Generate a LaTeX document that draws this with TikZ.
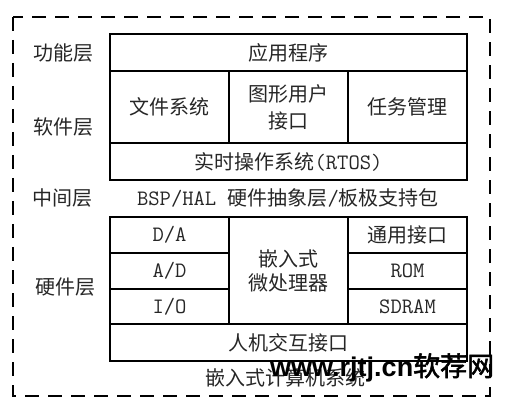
\documentclass[tikz,border=0pt]{standalone}
\usepackage{fontspec}
\setmainfont{Noto Sans CJK SC}
\newfontfamily\wmlat{Liberation Sans}
\newfontfamily\wmcjk{Noto Sans CJK SC}[FakeBold=2]
\newcommand\lt[1]{{\fontsize{22}{27}\selectfont\ttfamily #1}}
\begin{document}
\begin{tikzpicture}[x=1pt,y=1pt,
  cell/.style={draw, line width=1.5pt, inner sep=0pt, anchor=center, align=center,
    font=\fontsize{20}{27}\selectfont, text=black!85},
  lbl/.style={inner sep=0pt, anchor=center, font=\fontsize{20}{24}\selectfont, text=black!85},
  frame/.style={draw, line width=1.8pt, dash pattern=on 14pt off 9pt}]
\useasboundingbox (0,0) rectangle (505,-411);
\draw[frame] (13,-17) rectangle (490,-396);
% software part
\node[cell, minimum width=357, minimum height=37] (app) at (288.5,-52.5) {应用程序};
\node[cell, minimum width=119, minimum height=72] (fs) at (169.5,-107) {文件系统};
\node[cell, minimum width=119, minimum height=72] (gui) at (288.5,-107) {图形用户\\接口};
\node[cell, minimum width=119, minimum height=72] (task) at (407.5,-107) {任务管理};
\node[cell, minimum width=357, minimum height=37] (rtos) at (288.5,-161.5) {实时操作系统\lt{(RTOS)}};
\node[lbl] (bsp) at (288,-198) {\lt{BSP/HAL }硬件抽象层\lt{/}板极支持包};
% hardware part
\node[cell, minimum width=119, minimum height=36] (da) at (169.5,-235) {\lt{D/A}};
\node[cell, minimum width=119, minimum height=36] (ad) at (169.5,-271) {\lt{A/D}};
\node[cell, minimum width=119, minimum height=35] (io) at (169.5,-306.5) {\lt{I/O}};
\node[cell, minimum width=119, minimum height=107, font=\fontsize{20}{24}\selectfont] (cpu) at (288.5,-270.5) {嵌入式\\微处理器};
\node[cell, minimum width=119, minimum height=36] (gen) at (407.5,-235) {通用接口};
\node[cell, minimum width=119, minimum height=36] (rom) at (407.5,-271) {\lt{ROM}};
\node[cell, minimum width=119, minimum height=35] (sdram) at (407.5,-306.5) {\lt{SDRAM}};
\node[cell, minimum width=357, minimum height=37] (hmi) at (288.5,-342.5) {人机交互接口};
% layer labels
\node[lbl] (l1) at (63,-53) {功能层};
\node[lbl] (l2) at (63,-127) {软件层};
\node[lbl] (l3) at (62.5,-198) {中间层};
\node[lbl] (l4) at (65,-287) {硬件层};
\node[lbl] (sys) at (285,-378) {嵌入式计算机系统};
% watermark
\node[inner sep=0pt, anchor=base west, text=black] (wm) at (270,-376)
  {\fontsize{27}{27}\selectfont{\wmlat\bfseries www.rjtj.cn}{\wmcjk 软荐网}};
\end{tikzpicture}
\end{document}
